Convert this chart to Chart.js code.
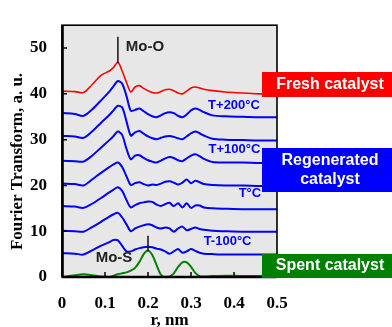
<!DOCTYPE html>
<html>
<head>
<meta charset="utf-8">
<script src="https://cdn.jsdelivr.net/npm/chart.js@4/dist/chart.umd.min.js"></script>
<style>
  html, body { margin: 0; padding: 0; background: #fff; }
  #wrap { position: relative; width: 392px; height: 327px; }
</style>
</head>
<body>
<div id="wrap"><canvas id="ft"></canvas></div>
<script>
// ─── Data (r in nm, FT magnitude in a.u.) ───
const rValues = [0, 0.03, 0.05, 0.07, 0.09, 0.11,
    0.12, 0.13, 0.14, 0.15, 0.16, 0.17, 0.18, 0.19, 0.20, 0.21, 0.22,
    0.23, 0.24, 0.25, 0.26, 0.27, 0.28, 0.29, 0.30, 0.31, 0.32, 0.33,
    0.35, 0.38, 0.42, 0.46, 0.5];

const fresh = [40.6, 40.5, 40.3, 42.0, 44.0, 45.0,
    45.8, 46.9, 45.0, 42.5, 40.4, 41.5, 41.8, 41.2, 40.7, 40.3, 40.2,
    40.5, 40.9, 41.0, 40.7, 40.2, 40.0, 40.6, 41.3, 41.5, 41.3, 41.0,
    40.7, 40.4, 40.2, 40.0, 40.0];

const regenTplus200 = [35.8, 35.6, 35.2, 36.6, 38.5, 40.5,
    41.7, 42.8, 42.2, 39.5, 36.3, 36.5, 36.8, 36.2, 35.6, 35.1, 34.9,
    35.3, 35.8, 36.0, 35.8, 35.2, 34.9, 35.5, 36.4, 36.8, 36.5, 36.0,
    35.3, 35.1, 35.0, 34.9, 34.9];

const regenB = [30.8, 30.7, 30.4, 31.8, 33.6, 35.4,
    36.4, 37.4, 37.0, 34.0, 30.9, 31.6, 31.9, 31.3, 30.7, 30.3, 30.1,
    30.4, 30.7, 30.8, 30.6, 30.3, 30.1, 30.7, 31.4, 31.8, 31.4, 30.9,
    30.2, 30.0, 29.9, 29.8, 29.8];

const regenTplus100 = [25.4, 25.3, 25.2, 26.5, 28.2, 29.9,
    30.8, 31.8, 31.0, 28.0, 25.7, 26.5, 26.6, 26.0, 25.5, 25.2, 25.0,
    25.4, 25.9, 26.2, 26.0, 25.5, 25.3, 25.9, 26.5, 26.8, 26.4, 25.8,
    25.1, 25.0, 25.0, 24.9, 24.9];

const regenD = [20.4, 20.3, 20.0, 21.3, 22.7, 24.0,
    24.6, 25.0, 24.0, 22.0, 20.1, 20.5, 20.7, 20.3, 20.0, 20.2, 20.1,
    20.4, 20.8, 20.9, 20.6, 20.2, 20.6, 21.3, 20.5, 21.0, 20.7, 20.3,
    20.1, 20.0, 20.0, 19.9, 19.9];

const regenT = [15.5, 15.4, 15.1, 16.0, 17.2, 18.5,
    19.1, 19.6, 18.8, 16.8, 15.2, 15.7, 16.1, 16.3, 16.5, 16.4, 15.8,
    15.5, 15.9, 16.2, 15.5, 16.1, 15.2, 16.1, 15.1, 15.6, 15.6, 15.2,
    15.0, 14.9, 14.8, 14.8, 14.8];

const regenF = [10.1, 10.0, 9.9, 10.9, 12.0, 13.2,
    13.7, 14.0, 13.0, 11.5, 10.0, 10.6, 11.0, 11.3, 11.5, 11.3, 10.8,
    10.6, 10.8, 10.6, 9.9, 10.6, 11.0, 10.2, 10.5, 10.8, 10.5, 10.3,
    10.1, 10.0, 9.9, 9.9, 9.9];

const regenTminus100 = [5.2, 5.1, 4.9, 5.8, 6.8, 7.6,
    8.1, 8.0, 6.8, 5.6, 5.6, 6.0, 6.3, 6.5, 6.6, 6.5, 6.2,
    6.0, 5.6, 5.1, 5.6, 6.1, 5.3, 5.6, 6.1, 5.7, 5.3, 5.1,
    5.0, 4.9, 4.9, 4.9, 4.9];

const spent = [0.0, 0.4, 0.6, 0.4, 0.1, 0.0,
    0.3, 0.6, 0.8, 1.0, 1.4, 2.0, 3.3, 5.0, 5.8, 4.8, 2.6,
    0.5, 0.0, 0.1, 0.8, 2.2, 3.2, 3.2, 2.2, 0.9, 0.2, 0.1,
    0.2, 0.3, 0.2, 0.2, 0.2];

const xTicks = [0, 0.1, 0.2, 0.3, 0.4, 0.5];
const yTicks = [0, 10, 20, 30, 40, 50];

// curve labels: [text, r, value]
const curveLabels = [
    ['T+200°C', 0.400, 37.5],
    ['T+100°C', 0.401, 27.9],
    ['T°C', 0.437, 18.3],
    ['T-100°C', 0.385, 7.7],
];

// peak markers: [text, r, from, to, labelR, labelV]
const peakMarks = [
    ['Mo-O', 0.130, 46.7, 52.5, 0.193, 50.3],
    ['Mo-S', 0.200, 5.6, 9.0, 0.121, 4.2],
];

// legend boxes at the right
const legendBoxes = [
    { lines: ['Fresh catalyst'], color: '#ff0000', top: 72, bottom: 97 },
    { lines: ['Regenerated', 'catalyst'], color: '#0000ff', top: 148, bottom: 192 },
    { lines: ['Spent catalyst'], color: '#008000', top: 254, bottom: 278 },
];

const toPts = arr => arr.map((v, i) => ({ x: rValues[i], y: v }));

const BLUE = '#0000ff';
const SERIF = "'Liberation Serif', 'Times New Roman', serif";
const SANS = "'Liberation Sans', Arial, sans-serif";

function series(label, data, color, width) {
    return {
        label, data: toPts(data), borderColor: color, borderWidth: width,
        pointRadius: 0, fill: false, tension: 0.3, clip: 4,
    };
}

const decor = {
    id: 'decor',
    beforeDatasetsDraw(chart) {
        const { ctx, chartArea: a } = chart;
        ctx.save();
        ctx.fillStyle = '#e7e7e7';
        ctx.fillRect(a.left, a.top, a.right - a.left, a.bottom - a.top);
        ctx.restore();
    },
    afterDraw(chart) {
        const { ctx, chartArea: a, scales: { x, y } } = chart;
        ctx.save();

        // frame
        ctx.strokeStyle = '#000';
        ctx.lineWidth = 1.6;
        ctx.strokeRect(a.left, a.top, a.right - a.left, a.bottom - a.top);
        ctx.lineWidth = 2.6;
        ctx.beginPath();
        ctx.moveTo(a.left + 0.5, a.top); ctx.lineTo(a.left + 0.5, a.bottom);
        ctx.moveTo(a.left, a.bottom); ctx.lineTo(a.right, a.bottom);
        ctx.stroke();

        // inward ticks
        ctx.lineWidth = 1.5;
        ctx.beginPath();
        yTicks.forEach(v => { const py = y.getPixelForValue(v); ctx.moveTo(a.left, py); ctx.lineTo(a.left + 5, py); });
        xTicks.forEach(v => { const px = x.getPixelForValue(v); ctx.moveTo(px, a.bottom); ctx.lineTo(px, a.bottom - 5); });
        ctx.stroke();

        // peak markers
        peakMarks.forEach(([txt, r, v0, v1, lr, lv]) => {
            const px = x.getPixelForValue(r);
            ctx.strokeStyle = '#111';
            ctx.lineWidth = 1.5;
            ctx.beginPath();
            ctx.moveTo(px, y.getPixelForValue(v0));
            ctx.lineTo(px, y.getPixelForValue(v1));
            ctx.stroke();
            ctx.fillStyle = '#222';
            ctx.font = 'bold 15px ' + SANS;
            ctx.textAlign = 'center';
            ctx.textBaseline = 'middle';
            ctx.fillText(txt, x.getPixelForValue(lr), y.getPixelForValue(lv));
        });

        // curve labels
        ctx.fillStyle = BLUE;
        ctx.font = 'bold 13px ' + SANS;
        ctx.textAlign = 'center';
        ctx.textBaseline = 'middle';
        curveLabels.forEach(([txt, r, v]) => ctx.fillText(txt, x.getPixelForValue(r), y.getPixelForValue(v)));

        // axis titles
        ctx.fillStyle = '#000';
        ctx.font = 'bold 17px ' + SERIF;
        ctx.textAlign = 'center';
        ctx.textBaseline = 'alphabetic';
        ctx.fillText('r, nm', (a.left + a.right) / 2, 324.5);
        ctx.save();
        ctx.translate(21.5, 161.5);
        ctx.rotate(-Math.PI / 2);
        ctx.fillText('Fourier Transform, a. u.', 0, 0);
        ctx.restore();

        // legend boxes
        legendBoxes.forEach(b => {
            ctx.fillStyle = b.color;
            ctx.fillRect(262, b.top, chart.width - 262, b.bottom - b.top);
            ctx.fillStyle = '#fff';
            ctx.font = 'bold 16px ' + SANS;
            ctx.textAlign = 'center';
            ctx.textBaseline = 'middle';
            const mid = (b.top + b.bottom) / 2;
            const n = b.lines.length;
            b.lines.forEach((t, i) => ctx.fillText(t, 330, mid + (i - (n - 1) / 2) * 19.5));
        });

        ctx.restore();
    }
};

new Chart(document.getElementById('ft'), {
    type: 'line',
    data: {
        datasets: [
            series('Fresh catalyst', fresh, '#ff0000', 1.6),
            series('T+200°C', regenTplus200, BLUE, 2),
            series('Regenerated 2', regenB, BLUE, 2),
            series('T+100°C', regenTplus100, BLUE, 2),
            series('Regenerated 4', regenD, BLUE, 2),
            series('T°C', regenT, BLUE, 2),
            series('Regenerated 6', regenF, BLUE, 2),
            series('T-100°C', regenTminus100, BLUE, 2),
            series('Spent catalyst', spent, '#008000', 2),
        ]
    },
    options: {
        responsive: true,
        maintainAspectRatio: false,
        animation: false,
        events: [],
        layout: { padding: { top: 12, right: 115, left: 0, bottom: 0 } },
        plugins: { legend: { display: false }, tooltip: { enabled: false } },
        scales: {
            x: {
                type: 'linear', min: 0, max: 0.5,
                grid: { display: false, drawTicks: false },
                border: { display: false },
                afterBuildTicks: s => { s.ticks = xTicks.map(v => ({ value: v })); },
                afterFit: s => { s.height = 50; },
                ticks: { color: '#000', padding: 16, maxRotation: 0,
                    font: { family: SERIF, size: 17, weight: 'bold' } },
            },
            y: {
                min: 0, max: 55,
                grid: { display: false, drawTicks: false },
                border: { display: false },
                afterBuildTicks: s => { s.ticks = yTicks.map(v => ({ value: v })); },
                afterFit: s => { s.width = 62; },
                ticks: { color: '#000', padding: 15,
                    font: { family: SERIF, size: 17, weight: 'bold' } },
            }
        }
    },
    plugins: [decor]
});
</script>
</body>
</html>
